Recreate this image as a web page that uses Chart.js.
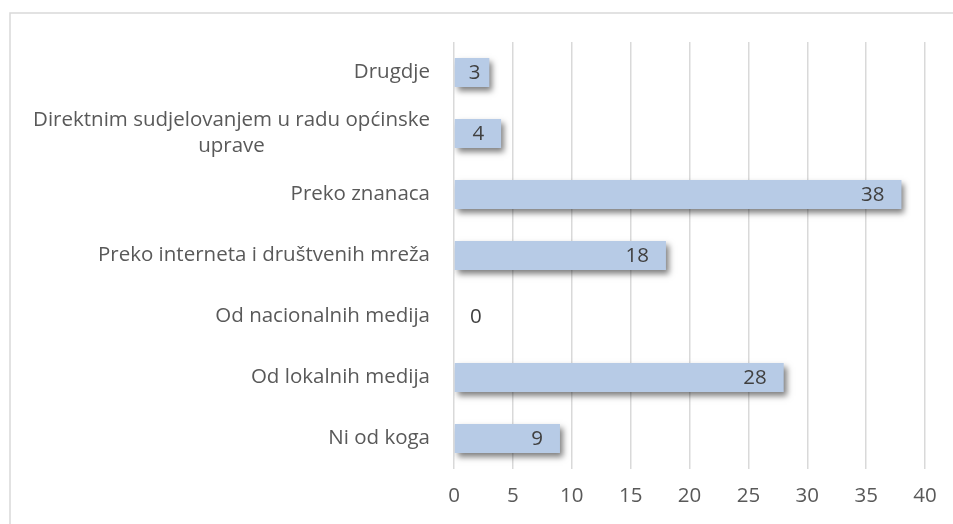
<!DOCTYPE html>
<html>
<head>
<meta charset="utf-8">
<script src="https://cdn.jsdelivr.net/npm/chart.js@4/dist/chart.umd.min.js"></script>
<style>
  html, body { margin: 0; padding: 0; background: #fff; }
  #wrap { width: 953px; height: 524px; position: relative; }
</style>
</head>
<body>
<div id="wrap"><canvas id="chart"></canvas></div>
<script>
var categories = [
  "Drugdje",
  ["Direktnim sudjelovanjem u radu općinske", "uprave"],
  "Preko znanaca",
  "Preko interneta i društvenih mreža",
  "Od nacionalnih medija",
  "Od lokalnih medija",
  "Ni od koga"
];
var values = [3, 4, 38, 18, 0, 28, 9];
var xTicks = [0, 5, 10, 15, 20, 25, 30, 35, 40];

var fontName = "'Open Sans', sans-serif";
var fontSize = 20.5;

// frame round the chart, only left and top edges show in the window
const framePlugin = {
  id: 'frame',
  beforeDraw(chart) {
    const ctx = chart.ctx;
    ctx.save();
    ctx.strokeStyle = '#d9d9d9';
    ctx.lineWidth = 1.5;
    ctx.strokeRect(10, 13, 1000, 600);
    ctx.restore();
  }
};

// soft shadow under the bars
const shadowPlugin = {
  id: 'barShadow',
  beforeDatasetsDraw(chart) {
    const ctx = chart.ctx;
    ctx.save();
    ctx.shadowColor = 'rgba(0,0,0,0.5)';
    ctx.shadowBlur = 6;
    ctx.shadowOffsetX = 3;
    ctx.shadowOffsetY = 4;
  },
  afterDatasetsDraw(chart) {
    chart.ctx.restore();
  }
};

// value labels at the inside end of the bars
const valuePlugin = {
  id: 'values',
  afterDatasetsDraw(chart) {
    const ctx = chart.ctx;
    const meta = chart.getDatasetMeta(0);
    const x = chart.scales.x;
    const base = x.getPixelForValue(0);
    ctx.save();
    ctx.font = fontSize + 'px ' + fontName;
    ctx.fillStyle = '#404040';
    ctx.textBaseline = 'middle';
    ctx.textAlign = 'center';
    meta.data.forEach(function(bar, i) {
      const txt = String(values[i]);
      const w = ctx.measureText(txt).width;
      const end = bar.x;
      let cx;
      if (values[i] === 0) {
        cx = base + 16 + w / 2;
      } else if (end - base < w + 34) {
        cx = (base + end) / 2 + 3;
      } else {
        cx = end - 17 - w / 2;
      }
      ctx.fillText(txt, cx, bar.y + 1);
    });
    ctx.restore();
  }
};

// category labels, several lines centred on each other, right edge at the axis
const catPlugin = {
  id: 'cats',
  afterDraw(chart) {
    const ctx = chart.ctx;
    const y = chart.scales.y;
    const right = 430;
    const lineH = 26;
    ctx.save();
    ctx.font = fontSize + 'px ' + fontName;
    ctx.fillStyle = '#595959';
    ctx.textBaseline = 'middle';
    ctx.textAlign = 'center';
    categories.forEach(function(lab, i) {
      const lines = Array.isArray(lab) ? lab : [lab];
      let maxW = 0;
      lines.forEach(function(l) { maxW = Math.max(maxW, ctx.measureText(l).width); });
      const cx = right - maxW / 2;
      const cy = y.getPixelForValue(i);
      lines.forEach(function(l, j) {
        ctx.fillText(l, cx, cy + (j - (lines.length - 1) / 2) * lineH);
      });
    });
    ctx.restore();
  }
};

new Chart(document.getElementById('chart'), {
  type: 'bar',
  data: {
    labels: categories,
    datasets: [{
      data: values,
      backgroundColor: function(c) {
        const bar = c.element;
        const ctx = c.chart.ctx;
        if (!bar || bar.height === undefined) return '#b7cbe6';
        const g = ctx.createLinearGradient(0, bar.y - bar.height / 2, 0, bar.y + bar.height / 2);
        g.addColorStop(0, '#cddcf0');
        g.addColorStop(0.5, '#bdcfe9');
        g.addColorStop(1, '#9fb6d8');
        return g;
      },
      borderWidth: 0,
      barPercentage: 0.475,
      categoryPercentage: 1
    }]
  },
  options: {
    indexAxis: 'y',
    responsive: true,
    maintainAspectRatio: false,
    animation: false,
    layout: { padding: { left: 0, top: 42, right: 28, bottom: 0 } },
    plugins: {
      legend: { display: false },
      tooltip: { enabled: false }
    },
    scales: {
      x: {
        min: 0,
        max: 40,
        afterBuildTicks: function(scale) {
          scale.ticks = xTicks.map(function(v) { return { value: v }; });
        },
        afterFit: function(scale) { scale.height = 55; },
        grid: { color: '#d9d9d9', lineWidth: 1.5, drawTicks: false },
        border: { display: false },
        ticks: {
          color: '#595959',
          font: { family: fontName, size: fontSize },
          padding: 15,
          maxRotation: 0
        }
      },
      y: {
        afterFit: function(scale) { scale.width = 454; },
        grid: { display: false },
        border: { display: false },
        ticks: { display: false }
      }
    }
  },
  plugins: [framePlugin, shadowPlugin, valuePlugin, catPlugin]
});
</script>
</body>
</html>
